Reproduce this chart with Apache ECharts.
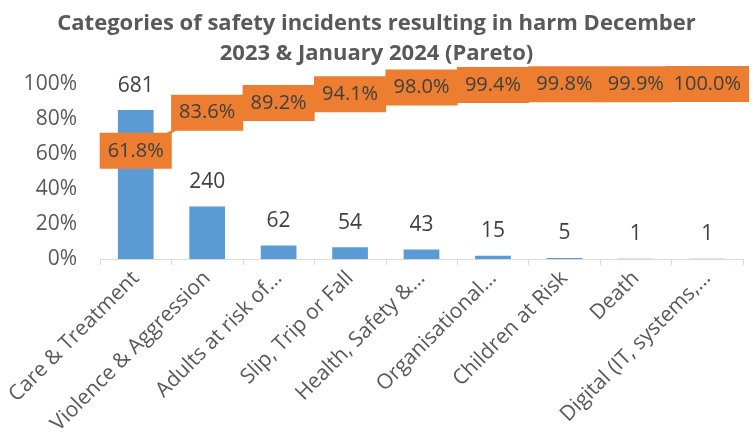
<!DOCTYPE html>
<html><head><meta charset="utf-8">
<script src="https://cdn.jsdelivr.net/npm/echarts@6/dist/echarts.min.js"></script>
<style>html,body{margin:0;padding:0;background:#fff}#c{width:753px;height:443px}</style>
</head><body><div id="c"></div>
<script>
var categories = ["Care & Treatment","Violence & Aggression","Adults at risk of…","Slip, Trip or Fall","Health, Safety &…","Organisational…","Children at Risk","Death","Digital (IT, systems,…"];
var counts = [681,240,62,54,43,15,5,1,1];
var cumulativePct = [61.8,83.6,89.2,94.1,98.0,99.4,99.8,99.9,100.0];
var pctTicks = [0,20,40,60,80,100];

var FONT = "Open Sans";
var chart = echarts.init(document.getElementById('c'));
chart.setOption({
  animation:false,
  title:{text:"Categories of safety incidents resulting in harm December\n2023 & January 2024 (Pareto)",left:'center',top:4,
    textStyle:{fontFamily:FONT,fontSize:22,fontWeight:'bold',color:'#595959',lineHeight:30}},
  grid:{left:100,right:10,top:84,bottom:184},
  xAxis:{type:'category',data:categories,
    axisLine:{lineStyle:{color:'#d9d9d9',width:1}},
    axisTick:{show:true,length:6,lineStyle:{color:'#d9d9d9'}},
    axisLabel:{rotate:45,interval:0,fontFamily:FONT,fontSize:21,color:'#595959',margin:16}},
  yAxis:[{type:'value',min:0,max:100,interval:20,
    axisLabel:{formatter:'{value}%',fontFamily:FONT,fontSize:21,color:'#595959',margin:23},
    splitLine:{show:false},axisLine:{show:false},axisTick:{show:false}},
    {type:'value',min:0,max:800,show:false,splitLine:{show:false}}],
  series:[
    {type:'bar',yAxisIndex:1,data:counts,barWidth:'50%',itemStyle:{color:'#5B9BD5'},
     label:{show:true,position:'top',distance:14,fontFamily:FONT,fontSize:21,color:'#404040'}},
    {type:'line',yAxisIndex:0,data:cumulativePct,symbol:'circle',symbolSize:1,showSymbol:true,
     lineStyle:{color:'#ED7D31',width:2.5},itemStyle:{color:'#ED7D31'},
     label:{show:true,position:'inside',formatter:function(p){return p.value.toFixed(1)+'%';},
       backgroundColor:'#ED7D31',borderWidth:0,textBorderWidth:0,padding:[8,8],fontFamily:FONT,fontSize:20,color:'#404040'},
     labelLayout:{hideOverlap:false}}
  ]
});
</script></body></html>
